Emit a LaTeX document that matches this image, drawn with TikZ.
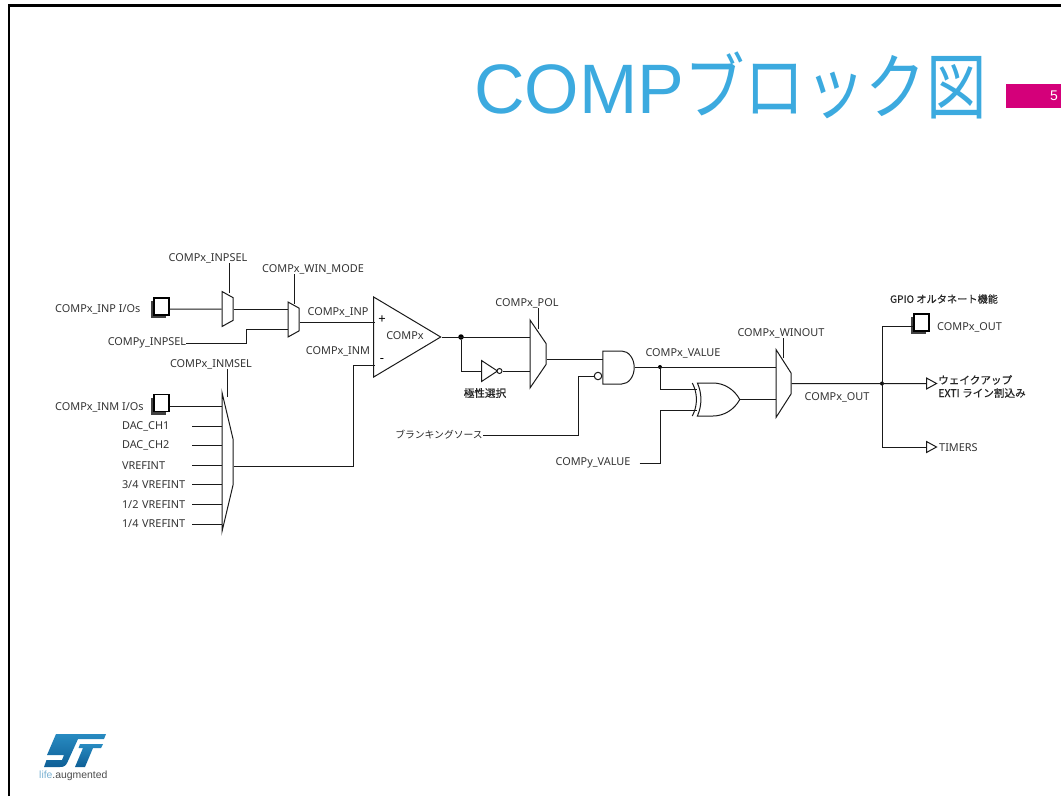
\documentclass[tikz,border=0pt]{standalone}
\usepackage{fontspec}
\setmainfont{Noto Sans}
\newfontfamily\titlefont{Liberation Sans}
\newfontfamily\cjk{Noto Sans CJK JP}
\newfontfamily\cjkbold[FakeBold=0.5]{Noto Sans CJK JP}
\newfontfamily\cjktitle[FakeStretch=0.84]{Noto Sans CJK JP}
\usepackage{tikz}
\usetikzlibrary{shapes.geometric,shapes.gates.logic.US,shadows,calc}
\definecolor{sttitle}{HTML}{3CAADF}
\definecolor{stpink}{HTML}{D4007A}
\definecolor{stblue}{HTML}{1F7DB4}
\definecolor{stdark}{HTML}{0F5F96}
\definecolor{wirecol}{HTML}{1A1A1A}
\tikzstyle{label}   = [font=\fontsize{10.9}{13}\selectfont, text=black!80, inner sep=0pt]
\tikzstyle{jplabel} = [font=\cjk\fontsize{9.8}{12}\selectfont, text=black!85, inner sep=0pt]
\tikzstyle{jpbold}  = [font=\cjkbold\fontsize{10.6}{13}\selectfont, text=black!85, inner sep=0pt]
\tikzstyle{inlabel} = [label, text width=66pt, align=left]
\tikzstyle{sign}    = [font=\bfseries\fontsize{13}{14}\selectfont, inner sep=0pt]
\tikzstyle{wire}    = [draw=wirecol, line width=1pt]
\tikzstyle{mux}     = [trapezium, shape border rotate=270, draw=wirecol, line width=1pt, fill=white, inner sep=0pt, trapezium stretches=true, text width=1pt, text height=1pt, text depth=0pt]
\tikzstyle{iopad}   = [rectangle, draw=black, line width=1.4pt, fill=white, minimum width=15pt, minimum height=17pt, inner sep=0pt, drop shadow={shadow xshift=-3pt, shadow yshift=-3pt, fill=black!75, opacity=1}]
\tikzstyle{outtip}  = [isosceles triangle, isosceles triangle stretches, draw=wirecol, line width=1pt, fill=white, inner sep=0pt, minimum width=11pt, minimum height=10pt]
\tikzstyle{triang}  = [isosceles triangle, isosceles triangle stretches, draw=wirecol, line width=1pt, inner sep=0pt]
\begin{document}
\begin{tikzpicture}[x=1pt, y=-1pt, node distance=19.6pt]
    \useasboundingbox (0,0) rectangle (1061,796);
    % 枠
    \draw [line width=2.2pt] (9,796) -- (9,5.5) -- (1061,5.5);
    % タイトル
    \node (title) [anchor=base west, text=sttitle, inner sep=0pt, font=\titlefont\fontsize{70}{80}\selectfont] at (474,113) {COMP{\cjktitle\fontsize{72}{80}\selectfont ブロック図}};
    \node (pagebox) [rectangle, fill=stpink, anchor=north west, minimum width=55pt, minimum height=24pt, inner sep=0pt] at (1006,84) {};
    \node (pagenum) [text=white, inner sep=0pt, font=\titlefont\fontsize{14}{16}\selectfont] at (1054,96) {5};

    % 入力側
    \node (padinp) [iopad] at (161.5,306.5) {};
    \node (lblinp) [label, anchor=west] at (55,309.5) {COMPx\_INP I/Os};
    \node (muxa) [mux, minimum width=35pt, minimum height=11pt, trapezium angle=75] at (227.5,309) {};
    \node (lblinpsel) [label] at (208,258) {COMPx\_INPSEL};
    \node (muxb) [mux, minimum width=35pt, minimum height=11pt, trapezium angle=75] at (293.5,319.5) {};
    \node (lblwinmode) [label] at (313,269) {COMPx\_WIN\_MODE};
    \node (lblysel) [label] at (147,343) {COMPy\_INPSEL};
    \coordinate (ctla) at (229,293);
    \coordinate (ctlb) at (294,304);
    \coordinate (yselbend) at (246,329);

    % 反転入力側
    \node (padinm) [iopad] at (161.5,403) {};
    \node (lblinm) [label, anchor=west] at (55,407.5) {COMPx\_INM I/Os};
    \node (muxc) [mux, minimum width=139pt, minimum height=11pt, trapezium angle=45] at (227.5,462) {};
    \node (lblinmsel) [label] at (211,364) {COMPx\_INMSEL};
    \coordinate (ctlc) at (227,397);
    \coordinate (pinm) at (222,406);
    \node (lbldaca) [inlabel] at (155,426) {DAC\_CH1};
    \node (lbldacb) [inlabel, below of=lbldaca] {DAC\_CH2};
    \node (lblvref) [inlabel, below of=lbldacb] {VREFINT};
    \node (lblvrefa) [inlabel, below of=lblvref] {3/4 VREFINT};
    \node (lblvrefb) [inlabel, below of=lblvrefa] {1/2 VREFINT};
    \node (lblvrefc) [inlabel, below of=lblvrefb] {1/4 VREFINT};
    \coordinate (inmbend) at (353,466);

    % コンパレータ
    \node (comp) [triang, minimum width=80pt, minimum height=67pt, anchor=apex] at (442,337) {};
    \node (lblcomp) [label] at (405,336) {COMPx};
    \node (plus) [sign] at (382,320) {+};
    \node (minus) [sign] at (382,360) {-};
    \node (lblcinp) [label] at (338,312) {COMPx\_INP};
    \node (lblcinm) [label] at (338,351) {COMPx\_INM};
    \coordinate (cinp) at (375,322);
    \coordinate (cinm) at (375,365);

    % 極性選択
    \node (dota) [circle, fill=black, inner sep=0pt, minimum size=5.5pt] at (461,337) {};
    \node (muxd) [mux, minimum width=68pt, minimum height=16pt, trapezium angle=42] at (538,354) {};
    \node (lblpol) [label] at (527,303) {COMPx\_POL};
    \coordinate (ctld) at (538,329);
    \node (inv) [triang, minimum width=21pt, minimum height=16pt, anchor=lower side] at (481,371) {};
    \node (bubinv) [circle, draw=wirecol, line width=1pt, fill=white, inner sep=0pt, minimum size=5pt] at (499.5,371) {};
    \node (lblinv) [jpbold] at (485,393) {極性選択};

    % ブランキング
    \node (andg) [and gate US, draw=wirecol, line width=1pt, logic gate inputs=nn, logic gate input sep=11pt, xscale=0.76, transform shape, inner sep=0pt] at (617.5,367.5) {};
    \node (bubblank) [circle, draw=wirecol, line width=1pt, fill=white, inner sep=0pt, minimum size=7.5pt] at (598,376) {};
    \node (lblblank) [jplabel] at (439,435) {ブランキングソース};
    \coordinate (blankcorner) at (578,435);
    \coordinate (andina) at (603,359);
    \node (lblvalx) [label] at (683,353) {COMPx\_VALUE};
    \node (dotb) [circle, fill=black, inner sep=0pt, minimum size=4pt] at (660,367) {};

    % 窓モード
    \node (xorg) [xor gate US, draw=wirecol, line width=1pt, logic gate inputs=nn, logic gate input sep=11pt, xscale=0.94, transform shape, inner sep=0pt] at (715.5,399.5) {};
    \node (lblvaly) [label] at (593,463) {COMPy\_VALUE};
    \coordinate (valyend) at (660,463);
    \coordinate (xina) at (697,389);
    \coordinate (xinb) at (697,410);
    \node (muxe) [mux, minimum width=68pt, minimum height=15pt, trapezium angle=42] at (783.5,383.5) {};
    \node (lblwinout) [label] at (781,333) {COMPx\_WINOUT};
    \coordinate (ctle) at (783,358);

    % 出力側
    \node (dotc) [circle, fill=black, inner sep=0pt, minimum size=4pt] at (882,383.5) {};
    \node (padout) [iopad] at (921.5,322.5) {};
    \node (lblgpio) [jpbold, font=\cjkbold\fontsize{10.2}{13}\selectfont] at (944,299) {GPIO オルタネート機能};
    \node (lblout) [label, anchor=west] at (937,327) {COMPx\_OUT};
    \node (lblmuxout) [label] at (837,397) {COMPx\_OUT};
    \node (tipa) [outtip, anchor=lower side] at (926,383.5) {};
    \node (lblexti) [jpbold, anchor=west, align=left] at (938,386.5) {ウェイクアップ\\EXTI ライン割込み};
    \node (tipb) [outtip, anchor=lower side] at (926,447) {};
    \node (lbltim) [label, anchor=west] at (939,448) {TIMERS};
    \coordinate (branchtop) at (882,326);

    % 結線
    \draw [wire] (padinp.east |- muxa) -- (muxa.west);
    \draw [wire] (ctla) -- (ctla |- lblinpsel.south);
    \draw [wire] (muxa.east) -- (muxa.east -| muxb.west);
    \draw [wire] (ctlb) -- (ctlb |- lblwinmode.south);
    \draw [wire] (lblysel.east) -| (yselbend) -- (yselbend -| muxb.west);
    \draw [wire] (muxb.east |- cinp) -- (cinp);
    \draw [wire] (padinm.east |- pinm) -- (pinm);
    \draw [wire] (ctlc) -- (ctlc |- lblinmsel.south);
    \foreach \name in {lbldaca,lbldacb,lblvref,lblvrefa,lblvrefb,lblvrefc}
        \draw [wire] (\name.east) ++(4,0) -- (muxc.west |- \name);
    \draw [wire] (muxc.east |- inmbend) -- (inmbend) |- (cinm);
    \draw [wire] (comp.apex) -- (muxd.west |- comp.apex);
    \draw [wire] (dota) |- (inv.lower side);
    \draw [wire] (bubinv.east) -- (muxd.west |- bubinv);
    \draw [wire] (ctld) -- (ctld |- lblpol.south);
    \draw [wire] (muxd.east |- andina) -- (andina);
    \draw [wire] (bubblank.west) -| (blankcorner) -- (lblblank.east);
    \draw [wire] (andg.output) -- (muxe.west |- andg.output);
    \draw [wire] (dotb) |- (xina);
    \draw [wire] (lblvaly.east) ++(9,0) -- (valyend) |- (xinb);
    \draw [wire] (xorg.output) -- (muxe.west |- xorg.output);
    \draw [wire] (ctle) -- (ctle |- lblwinout.south);
    \draw [wire] (muxe.east) -- (tipa.lower side);
    \draw [wire] (padout.west |- branchtop) -- (branchtop) -- (branchtop |- tipb.lower side) -- (tipb.lower side);

    % ロゴ
    \shade [top color=stblue!70!sttitle, bottom color=stdark] (56,734) -- (106,734) -- (104,739) -- (78,739) -- (68,761) .. controls (66,766) and (64,767) .. (60,767) -- (44,767) -- (46.5,760) -- (62,760) -- (64,755) -- (47,755) -- cycle;
    \shade [top color=stblue!70!sttitle, bottom color=stdark] (80,744) -- (103,744) -- (101,748) -- (93,748) -- (85,767) -- (75,767) -- (83,748) -- (78.5,748) -- cycle;
    \node (logotext) [anchor=base west, inner sep=0pt, font=\titlefont\fontsize{10.4}{12}\selectfont] at (39,778) {{\color{stblue!60}life}{\color{black!70}.augmented}};
\end{tikzpicture}
\end{document}
